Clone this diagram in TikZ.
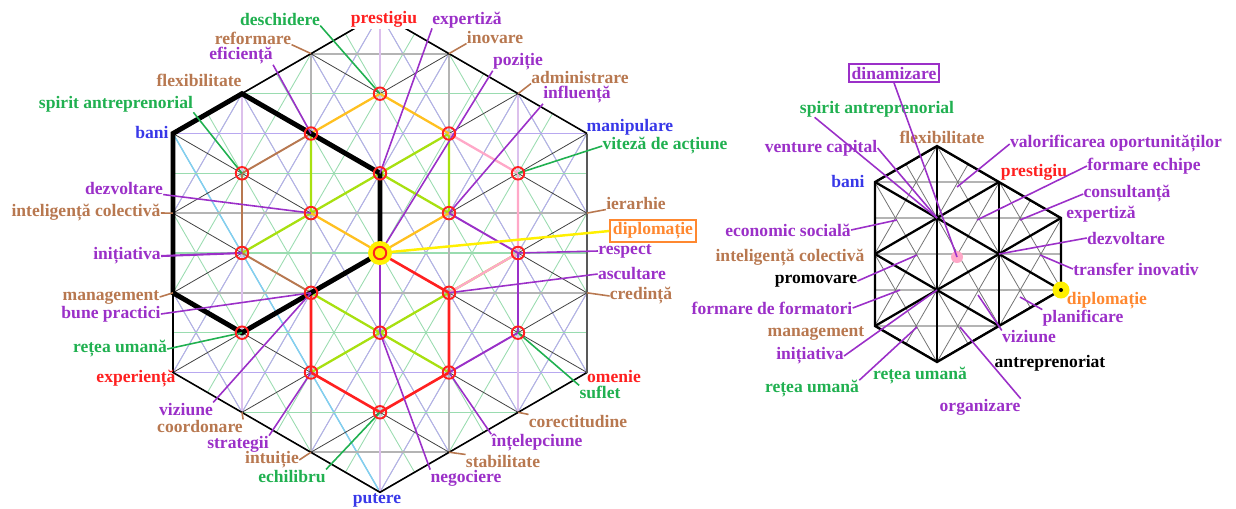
\documentclass[tikz,border=0pt]{standalone}
\usepackage{fontspec}
\setmainfont{Liberation Serif}
\definecolor{cpur}{HTML}{9B30C8}
\definecolor{cbrn}{HTML}{B87850}
\definecolor{cgrn}{HTML}{20B050}
\definecolor{cred}{HTML}{FF2020}
\definecolor{cblu}{HTML}{3838E8}
\definecolor{corg}{HTML}{FF8830}
\definecolor{cyg}{HTML}{A8E010}
\definecolor{cgold}{HTML}{FFC020}
\definecolor{cpink}{HTML}{FFA8C8}
\definecolor{lgrn}{HTML}{9ADCB0}
\definecolor{lpur}{HTML}{B8A8F0}
\definecolor{lvio}{HTML}{DCC0EC}
\definecolor{lgry}{HTML}{B4B4B4}
\definecolor{ccyan}{HTML}{80D0F0}
\definecolor{cyel}{HTML}{FFF000}
\begin{document}
\begin{tikzpicture}[x=0.02cm,y=-0.02cm,
  lbl/.style={font=\fontsize{10}{11}\selectfont\bfseries, inner sep=0pt},
  thin grid/.style={line width=0.5pt},
  ledge/.style={line width=1.3pt},
  leader/.style={line width=0.9pt},
  rnode/.style={draw=cred, line width=1.1pt}]
\useasboundingbox (0,0) rectangle (1236,508);
% ---------------- LEFT lattice points
\coordinate (O) at (380,253);
\coordinate (nA) at (380,173.3); \coordinate (nB) at (449,213.1); \coordinate (nC) at (449,292.8);
\coordinate (nD) at (380,332.7); \coordinate (nE) at (311,292.8); \coordinate (nF) at (311,213.1);
\coordinate (t2) at (380,93.7); \coordinate (ur2) at (518,173.3); \coordinate (lr2) at (518,332.7);
\coordinate (b2) at (380,412.3); \coordinate (ll2) at (242,332.7); \coordinate (ul2) at (242,173.3);
\coordinate (m1) at (449,133.5); \coordinate (m2) at (518,253); \coordinate (m3) at (449,372.5);
\coordinate (m4) at (311,372.5); \coordinate (m5) at (242,253); \coordinate (m6) at (311,133.5);
\coordinate (vT) at (380,13.7); \coordinate (vUR) at (587,133.5); \coordinate (vLR) at (587,372.5);
\coordinate (vB) at (380,492.3); \coordinate (vLL) at (173,372.5); \coordinate (vUL) at (173,133.5);
\coordinate (eTL1) at (311,53.6); \coordinate (eTL2) at (242,93.7); \coordinate (eTR1) at (449,53.6);
\coordinate (eTR2) at (518,93.7); \coordinate (eR1) at (587,213.1); \coordinate (eR2) at (587,292.8);
\coordinate (eBR1) at (518,412.3); \coordinate (eBR2) at (449,452.2); \coordinate (eBL2) at (311,452.2);
\coordinate (eBL1) at (242,412.3); \coordinate (eL1) at (173,213.1); \coordinate (eL2) at (173,292.8);
% grid
\begin{scope}
\clip (vT) -- (vUR) -- (vLR) -- (vB) -- (vLL) -- (vUL) -- cycle;
\foreach \k in {-10,...,10} {
  \draw[thin grid, lgrn] ({380+46.0*\k-150},-6.8) -- ({380+46.0*\k+150},512.8);
  \draw[thin grid, lgrn] ({380+46.0*\k+150},-6.8) -- ({380+46.0*\k-150},512.8);
}
\foreach \k in {-9,-7,...,9} {
  \draw[thin grid, lpur] ({380+46.0*\k-150},-6.8) -- ({380+46.0*\k+150},512.8);
  \draw[thin grid, lpur] ({380+46.0*\k+150},-6.8) -- ({380+46.0*\k-150},512.8);
}
\draw[thin grid, ccyan, line width=0.8pt] (vUL) -- (vB);
\foreach \m in {-4,-2,0,2,4} \draw[lgrn, line width=0.9pt] (150,{253+39.83*\m}) -- (610,{253+39.83*\m});
\foreach \m in {-5,-1,1,5} \draw[lgry, line width=0.9pt] (150,{253+39.83*\m}) -- (610,{253+39.83*\m});
\foreach \m in {-3,3} \draw[lpur, line width=0.9pt] (150,{253+39.83*\m}) -- (610,{253+39.83*\m});
\foreach \k in {-2,0,2} \draw[lvio, line width=0.9pt] ({380+69*\k},0) -- ({380+69*\k},508);
\foreach \k in {-1,1} \draw[lgry, line width=1pt] ({380+69*\k},0) -- ({380+69*\k},508);
\foreach \k in {-7,...,7} {
  \draw[black!75, line width=0.45pt] (104,{253+79.67*\k-159.3}) -- (656,{253+79.67*\k+159.3});
  \draw[black!75, line width=0.45pt] (104,{253+79.67*\k+159.3}) -- (656,{253+79.67*\k-159.3});
}
\end{scope}
\draw[black, line width=0.9pt] (vUL) -- (vT) -- (vUR);
\draw[black, line width=0.9pt] (vLL) -- (vB) -- (vLR);
\draw[black, line width=0.9pt] (vUL) -- (vLL);
\draw[black!65, line width=1.6pt] (vUR) -- (vLR);
% coloured edges
\draw[ledge, cyg] (m6) -- (nF) (m1) -- (nB) (nF) -- (nA) -- (nB) (nA) -- (m1) (m5) -- (nF)
  (nE) -- (nD) -- (nC) (nD) -- (m4) (nC) -- (m2) (nD) -- (m3);
\draw[ledge, cgold] (m6) -- (t2) -- (m1) (nF) -- (O) -- (nB);
\draw[ledge, cbrn, line width=1.1pt] (ul2) -- (m6) (ul2) -- (m5) -- (nE);
\draw[ledge, cpink] (m1) -- (ur2) -- (m2) -- (nC);
\draw[ledge, cpur, line width=1.1pt] (nB) -- (m2) (m3) -- (lr2) (m2) -- (lr2) (O) -- (nD);
\draw[ledge, cred, line width=1.5pt] (O) -- (nC) -- (m3) -- (b2) -- (m4) -- (nE);
\draw[black, line width=2.8pt, line join=miter] (eTL2) -- (vUL) -- (eL2) -- (ll2) -- (nE) -- (O) -- (nA) -- (m6) -- cycle;
% labels LEFT
\node[lbl, text=cgrn] (L1) at (280,19) {deschidere};
\node[lbl, text=cred, fill=white, inner sep=1pt] (L2) at (384,19) {prestigiu};
\node[lbl, text=cpur] (L3) at (467,20) {expertiză};
\node[lbl, text=cbrn] (L4) at (253,38) {reformare};
\node[lbl, text=cbrn] (L5) at (495,37) {inovare};
\node[lbl, text=cpur] (L6) at (241,56) {eficiență};
\node[lbl, text=cpur] (L7) at (518,62) {poziție};
\node[lbl, text=cbrn] (L8) at (580,77) {administrare};
\node[lbl, text=cpur] (L9) at (577,95) {influență};
\node[lbl, text=cbrn] (L10) at (199,80) {flexibilitate};
\node[lbl, text=cgrn] (L11) at (116,104) {spirit antreprenorial};
\node[lbl, text=cblu] (L12) at (152,132) {bani};
\node[lbl, text=cblu] (L13) at (630,127) {manipulare};
\node[lbl, text=cgrn] (L14) at (665,146) {viteză de acțiune};
\node[lbl, text=cpur] (L15) at (124,188) {dezvoltare};
\node[lbl, text=cbrn] (L16) at (86,213) {inteligență colectivă};
\node[lbl, text=cbrn] (L17) at (636,203) {ierarhie};
\node[lbl, text=corg, draw=corg, line width=1.2pt, inner sep=1.5pt] (L18) at (653,231) {diplomație};
\node[lbl, text=cpur] (L19) at (625,251) {respect};
\node[lbl, text=cpur] (L20) at (127,256) {inițiativa};
\node[lbl, text=cpur] (L21) at (632,274) {ascultare};
\node[lbl, text=cbrn] (L22) at (111,297) {management};
\node[lbl, text=cbrn] (L23) at (641,296) {credință};
\node[lbl, text=cpur] (L24) at (111,314) {bune practici};
\node[lbl, text=cgrn] (L25) at (120,349) {rețea umană};
\node[lbl, text=cred] (L26) at (136,379) {experiență};
\node[lbl, text=cred] (L27) at (614,376) {omenie};
\node[lbl, text=cgrn] (L28) at (600,392) {suflet};
\node[lbl, text=cpur] (L29) at (186,409) {viziune};
\node[lbl, text=cbrn] (L30) at (200,426) {coordonare};
\node[lbl, text=cbrn] (L31) at (578,421) {corectitudine};
\node[lbl, text=cpur] (L32) at (238,444) {strategii};
\node[lbl, text=cpur] (L33) at (537,443) {înțelepciune};
\node[lbl, text=cbrn] (L34) at (272,460) {intuiție};
\node[lbl, text=cbrn] (L35) at (503,461) {stabilitate};
\node[lbl, text=cgrn] (L36) at (292,476) {echilibru};
\node[lbl, text=cpur] (L37) at (466,478) {negociere};
\node[lbl, text=cblu] (L38) at (377,500) {putere};
% leaders LEFT
\draw[leader, cgrn] (L1.south east) -- (t2);
\draw[leader, cpur] (L3.south west) -- (nA);
\draw[leader, cbrn] (L4.south east) -- (eTL1);
\draw[leader, cbrn] (L5.south west) -- (eTR1);
\draw[leader, cpur] (L6.south east) -- (m6);
\draw[leader, cpur] (L7.south west) -- (O);
\draw[leader, cbrn] (L8.south west) -- (eTR2);
\draw[leader, cpur] (L9.south west) -- (nB);
\draw[leader, cgrn] (L11.south east) -- (ul2);
\draw[leader, cgrn] (L14.west) -- (ur2);
\draw[leader, cpur] (L15.south east) -- (nF);
\draw[leader, cbrn] (L16.east) -- (eL1);
\draw[leader, cbrn] (L17.south west) -- (eR1);
\draw[cyel, line width=1.4pt] (L18.west) -- (O);
\draw[leader, cpur] (L19.west) -- (m2);
\draw[leader, cpur, line width=1.2pt] (L20.east) -- (m5);
\draw[leader, cpur] (L21.west) -- (nC);
\draw[leader, cbrn] (L22.east) -- (eL2);
\draw[leader, cbrn] (L23.west) -- (eR2);
\draw[leader, cpur] (L24.east) -- (nE);
\draw[leader, cgrn] (L25.east) -- (ll2);
\draw[leader, cgrn] (L28.north west) -- (lr2);
\draw[leader, cpur] (L29.north east) -- (nE);
\draw[leader, cbrn] (L30.north east) -- (eBL1);
\draw[leader, cbrn] (L31.north west) -- (eBR1);
\draw[leader, cpur] (L32.north east) -- (m4);
\draw[leader, cpur] (L33.north west) -- (m3);
\draw[leader, cbrn] (L34.east) -- (eBL2);
\draw[leader, cbrn] (L35.north west) -- (eBR2);
\draw[leader, cgrn] (L36.north east) -- (b2);
\draw[leader, cpur] (L37.north west) -- (nD);
% nodes
\fill[cyel] (O) circle[radius=0.24cm];
\foreach \n in {O,nA,nB,nC,nD,nE,nF,t2,ur2,lr2,b2,ll2,ul2,m1,m2,m3,m4,m5,m6}
  \draw[rnode] (\n) circle[radius=0.125cm];
% ---------------- RIGHT
\coordinate (rT) at (937,146); \coordinate (rUR) at (1061,218); \coordinate (rLR) at (1061,290);
\coordinate (rB) at (937,362); \coordinate (rLL) at (875,326); \coordinate (rUL) at (875,182);
\coordinate (q1) at (937,218); \coordinate (q2) at (999,254); \coordinate (q3) at (937,290);
\coordinate (PD) at (957,257);
\begin{scope}
\clip (rT) -- (rUR) -- (rLR) -- (rB) -- (rLL) -- (rUL) -- cycle;
\foreach \m in {0,...,6} \draw[lgry, line width=0.9pt] (860,{146+36*\m}) -- (1080,{146+36*\m});
\foreach \k in {-8,...,8} {
  \draw[black!55, line width=0.45pt] ({937+41.57*\k-150},{218-259.8}) -- ({937+41.57*\k+150},{218+259.8});
  \draw[black!55, line width=0.45pt] ({937+41.57*\k+150},{218-259.8}) -- ({937+41.57*\k-150},{218+259.8});
}
\foreach \x in {937,999} \draw[black, line width=1.3pt] (\x,100) -- (\x,400);
\foreach \k in {-6,...,6} {
  \draw[black, line width=1.3pt] (813,{218+72*\k-72}) -- (1185,{218+72*\k+144});
  \draw[black, line width=1.3pt] (813,{218+72*\k+72}) -- (1185,{218+72*\k-144});
}
\end{scope}
\draw[black, line width=1.3pt] (rT) -- (rUR) -- (rLR) -- (rB) -- (rLL) -- (rUL) -- cycle;
\fill[cpink] (PD) circle[radius=0.12cm];
\fill[cyel] (rLR) circle[radius=0.17cm];
\fill[black] (rLR) circle[radius=0.04cm];
% labels RIGHT
\node[lbl, text=cpur, draw=cpur, line width=1.2pt, inner sep=1.5pt] (R1) at (894,73) {dinamizare};
\node[lbl, text=cgrn] (R2) at (877,109) {spirit antreprenorial};
\node[lbl, text=cpur] (R3) at (821,148) {venture capital};
\node[lbl, text=cbrn] (R4) at (942,137) {flexibilitate};
\node[lbl, text=cblu] (R5) at (848,181) {bani};
\node[lbl, text=cpur] (R6) at (1116,144) {valorificarea oportunităților};
\node[lbl, text=cred] (R7) at (1034,172) {prestigiu};
\node[lbl, text=cpur] (R8) at (1144,166) {formare echipe};
\node[lbl, text=cpur] (R9) at (1127,194) {consultanță};
\node[lbl, text=cpur] (R10) at (1101,214) {expertiză};
\node[lbl, text=cpur] (R11) at (788,230) {economic socială};
\node[lbl, text=cpur] (R12) at (1126,238) {dezvoltare};
\node[lbl, text=cbrn] (R13) at (790,258) {inteligență colectivă};
\node[lbl, text=cpur] (R14) at (1136,269) {transfer inovativ};
\node[lbl, text=black] (R15) at (816,281) {promovare};
\node[lbl, text=corg] (R16) at (1107,301) {diplomație};
\node[lbl, text=cpur] (R17) at (772,308) {formare de formatori};
\node[lbl, text=cpur] (R18) at (1083,318) {planificare};
\node[lbl, text=cbrn] (R19) at (816,333) {management};
\node[lbl, text=cpur] (R20) at (1029,337) {viziune};
\node[lbl, text=cpur] (R21) at (810,356) {inițiativa};
\node[lbl, text=black] (R22) at (1050,363) {antreprenoriat};
\node[lbl, text=cgrn] (R23) at (920,376) {rețea umană};
\node[lbl, text=cgrn] (R24) at (812,389) {rețea umană};
\node[lbl, text=cpur] (R25) at (980,407) {organizare};
% leaders RIGHT
\coordinate (a6) at (957,187); \coordinate (a8) at (977,220); \coordinate (a9) at (1020,220);
\coordinate (a11) at (897,220); \coordinate (a14) at (1040,255); \coordinate (a15) at (917,255);
\coordinate (a17) at (900,290); \coordinate (a18) at (1020,297); \coordinate (a20) at (978,295);
\coordinate (a24) at (917,327); \coordinate (a25) at (960,327);
\draw[leader, cpur] (R1.south) -- (PD);
\draw[leader, cpur] (R2.south west) ++(15,0) -- (q1);
\draw[leader, cpur] (R3.east) -- (q1);
\draw[leader, cpur] (R6.west) -- (a6);
\draw[leader, cpur] (R8.west) -- (a8);
\draw[leader, cpur] (R9.west) -- (a9);
\draw[leader, cpur] (R11.east) -- (a11);
\draw[leader, cpur] (R12.west) -- (q2);
\draw[leader, cpur] (R14.west) -- (a14);
\draw[leader, cpur] (R15.east) -- (a15);
\draw[leader, cpur] (R17.east) -- (a17);
\draw[leader, cpur] (R18.north west) -- (a18);
\draw[leader, cpur] (R20.north west) -- (a20);
\draw[leader, cpur] (R21.east) -- (q3);
\draw[leader, cpur] (R24.north east) -- (a24);
\draw[leader, cpur] (R25.north east) -- (a25);
\end{tikzpicture}
\end{document}
